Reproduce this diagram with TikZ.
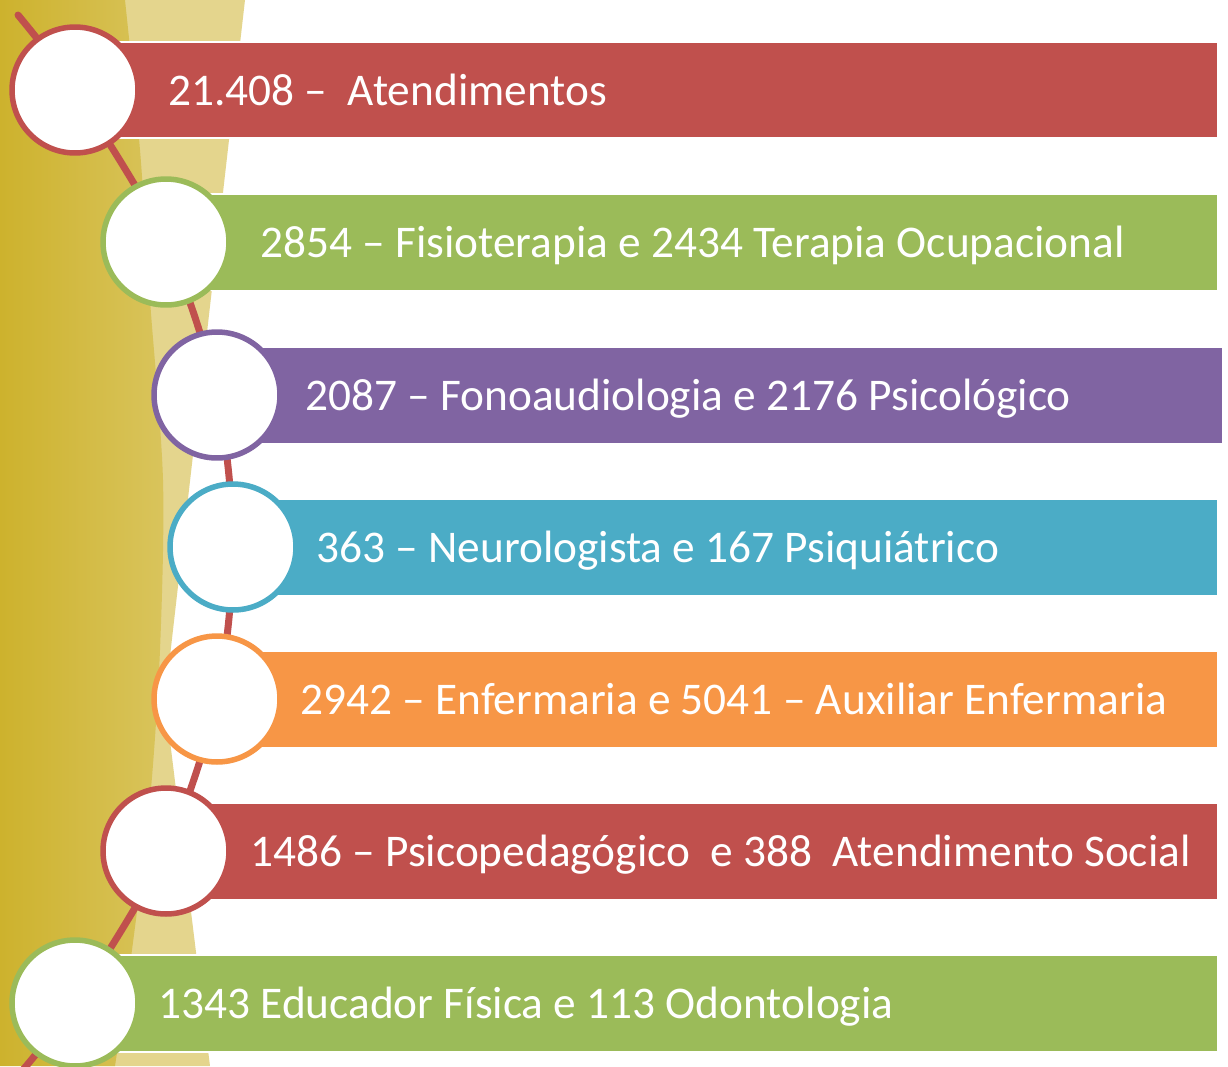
\documentclass[tikz,border=0pt]{standalone}
\usepackage{fontspec}
\setmainfont{Carlito}
\usetikzlibrary{calc}
\definecolor{barred}{HTML}{C0504D}
\definecolor{bargreen}{HTML}{9BBB59}
\definecolor{barviolet}{HTML}{8064A2}
\definecolor{barblue}{HTML}{4BACC6}
\definecolor{barorange}{HTML}{F79646}
\definecolor{golddark}{HTML}{CDB22D}
\definecolor{goldlight}{HTML}{D9C45C}
\definecolor{goldpale}{HTML}{E4D58D}
\tikzset{
  dot/.style={circle,draw=#1,fill=white,line width=0.11cm,minimum size=2.52cm,inner sep=0pt},
  dot/.default={barred},
  barbox/.style={rectangle,fill=#1,draw=white,line width=0.04cm,minimum height=1.94cm,
    inner sep=0pt,anchor=west},
  bartext/.style={anchor=base west,text=white,font=\fontsize{25.8}{31}\selectfont,inner sep=0pt},
  flowline/.style={draw=barred,line width=0.14cm,line cap=round},
}
\begin{document}
\begin{tikzpicture}[x=0.02cm,y=-0.02cm]
  \clip (0,0) rectangle (1228,1066);
  \fill[white] (0,0) rectangle (1228,1066);
  % gold band on the left
  \fill[goldpale] (90,0) -- (245,0) -- (165,700) -- (210,1066) -- (90,1066) -- cycle;
  \shade[left color=golddark,right color=goldlight]
    plot[smooth] coordinates {(125,0) (140,150) (150,300) (163,480) (160,650)
      (150,800) (132,950) (115,1066)} -- (0,1066) -- (0,0) -- cycle;
  % bars and labels
  \foreach \i/\cx/\cy/\rx/\col/\tx/\txt in {
    1/75/90/1217/barred/168/{21.408 –\ \ Atendimentos},
    2/166/242/1217/bargreen/260/{2854 – Fisioterapia e 2434 Terapia Ocupacional},
    3/217/395/1222/barviolet/305/{2087 – Fonoaudiologia e 2176 Psicológico},
    4/233/547/1217/barblue/316/{363 – Neurologista e 167 Psiquiátrico},
    5/217/699/1217/barorange/300/{2942 – Enfermaria e 5041 – Auxiliar Enfermaria},
    6/166/851/1217/barred/250/{1486 – Psicopedagógico\ \ e 388\ \ Atendimento Social},
    7/75/1003/1217/bargreen/158/{1343 Educador Física e 113 Odontologia}}{
    \coordinate (p\i) at (\cx,\cy);
    \node[barbox=\col,minimum width={(\rx-\cx)*0.02cm}] (bar\i) at (p\i) {};
    \node[bartext] (lbl\i) at (\tx,\cy+15) {\txt};
  }
  \coordinate (top) at (18,15);
  \coordinate (bottom) at (10,1085);
  \draw[flowline] plot[smooth] coordinates {(top) (p1) (p2) (p3) (p4) (p5) (p6) (p7) (bottom)};
  \foreach \i/\col in {1/barred,2/bargreen,3/barviolet,4/barblue,5/barorange,6/barred,7/bargreen}
    \node[dot=\col] (c\i) at (p\i) {};
\end{tikzpicture}
\end{document}
